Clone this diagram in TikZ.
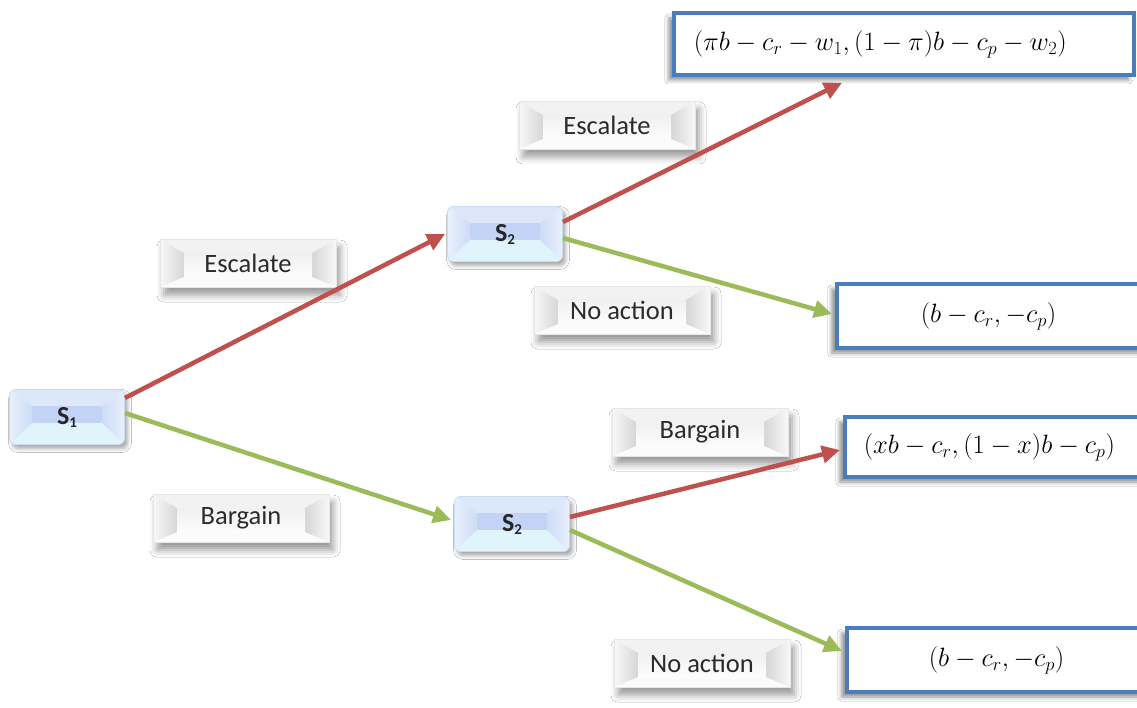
\RequirePackage{fix-cm}
\documentclass[tikz,border=0pt]{standalone}
\usepackage{fontspec}
\newfontfamily\labelfont{Carlito}
\usetikzlibrary{arrows.meta,shadows.blur}

\definecolor{arrowred}{HTML}{C0504D}
\definecolor{arrowgreen}{HTML}{9BBB59}
\definecolor{boxblue}{HTML}{4A7EBB}
\definecolor{stageedge}{HTML}{C9DCF3}
\definecolor{stagetop}{HTML}{DCE8FA}
\definecolor{stageside}{HTML}{E8F0FC}
\definecolor{stagein}{HTML}{CCDBF6}
\definecolor{stageband}{HTML}{C3D3F6}
\definecolor{stagebottom}{HTML}{E0F4FC}
\definecolor{labtop}{HTML}{F2F2F2}
\definecolor{labsideout}{HTML}{F8F8F8}
\definecolor{labsidein}{HTML}{D6D6D6}
\definecolor{labctop}{HTML}{F0F0F0}
\definecolor{labcbot}{HTML}{FDFDFD}
\definecolor{labbottom}{HTML}{FBFBFB}
\definecolor{labedge}{HTML}{E6E6E6}
\definecolor{labtext}{HTML}{2B2B2B}

% Bevelled face: inset x, inset top, inset bottom, then the face colours
\newcommand\bevelface[9]{%
  \begin{scope}[sharp corners]
  \coordinate (bnw) at (path picture bounding box.north west);
  \coordinate (bne) at (path picture bounding box.north east);
  \coordinate (bsw) at (path picture bounding box.south west);
  \coordinate (bse) at (path picture bounding box.south east);
  \coordinate (inw) at ([xshift=#1pt,yshift=-#2pt]bnw);
  \coordinate (ine) at ([xshift=-#1pt,yshift=-#2pt]bne);
  \coordinate (isw) at ([xshift=#1pt,yshift=#3pt]bsw);
  \coordinate (ise) at ([xshift=-#1pt,yshift=#3pt]bse);
  \fill[#4] (bnw) -- (bne) -- (ine) -- (inw) -- cycle;
  \fill[#9] (bsw) -- (bse) -- (ise) -- (isw) -- cycle;
  \shade[left color=#5, right color=#6] (bnw) -- (inw) -- (isw) -- (bsw) -- cycle;
  \shade[left color=#6, right color=#5] (bne) -- (ine) -- (ise) -- (bse) -- cycle;
  \shade[top color=#7, bottom color=#8] (inw) rectangle (ise);
  \end{scope}
}

\tikzset{
  stage/.style={rectangle, rounded corners=6pt, minimum width=115pt,
    minimum height=55pt, inner sep=0pt, draw=stageedge, line width=0.8pt,
    fill=white,
    blur shadow={shadow xshift=3pt, shadow yshift=-4pt,
      shadow blur radius=4pt, shadow opacity=35},
    path picture={\bevelface{23}{17}{22}{stagetop}{stageside}{stagein}{stageband}{stageband}{stagebottom}},
    font=\labelfont\bfseries\fontsize{26}{26}\selectfont, text=black!85},
  action/.style={rectangle, minimum width=176pt, minimum height=48pt,
    inner sep=0pt, fill=white, draw=labedge, line width=0.5pt,
    blur shadow={shadow xshift=4pt, shadow yshift=-8pt,
      shadow blur radius=7pt, shadow opacity=40},
    path picture={\bevelface{24}{14}{10}{labtop}{labsideout}{labsidein}{labctop}{labcbot}{labbottom}},
    font=\labelfont\fontsize{26.5}{26.5}\selectfont, text=labtext},
  payoff/.style={rectangle, draw=boxblue, line width=3.5pt, fill=white,
    anchor=west, minimum height=62pt, text width=420pt, align=left,
    blur shadow={shadow xshift=-5pt, shadow yshift=-5pt,
      shadow blur radius=4pt, shadow opacity=45},
    font=\fontsize{26.5}{30}\selectfont},
  move/.style={line width=4.5pt, -{Triangle[length=18pt,width=17pt]}},
  escalate/.style={move, draw=arrowred},
  calm/.style={move, draw=arrowgreen},
}

\newcommand\stagelabel[1]{S\raisebox{-3pt}{\fontsize{15}{15}\selectfont #1}}

\begin{document}
\begin{tikzpicture}[x=1pt, y=-1pt]
  \useasboundingbox (0,0) rectangle (1137,708);
  \fill[white] (0,0) rectangle (1137,708);
  \clip (0,0) rectangle (1137,708);

  % decision stages
  \node[stage] (s1)  at (67,417)  {\stagelabel{1}};
  \node[stage] (s2a) at (505,234) {\stagelabel{2}};
  \node[stage] (s2b) at (512,524) {\stagelabel{2}};

  % action labels
  \node[action] (esc1) at (248,263) {Escalate};
  \node[action] (bar1) at (241,518) {Bargain};
  \node[action] (esc2) at (607,125) {Escalate};
  \node[action] (no1)  at (622,310) {No action};
  \node[action] (bar2) at (700,432) {Bargain};
  \node[action] (no2)  at (702,663) {No action};

  % payoffs
  \node[payoff, inner xsep=20pt] (r1) at (672,44)
    {$(\pi b - c_r - w_1, (1-\pi)b - c_p - w_2)$};
  \node[payoff, inner xsep=84pt, minimum height=64pt] (r2) at (835,316)
    {$(b - c_r, -c_p)$};
  \node[payoff, inner xsep=19pt, minimum height=60pt] (r3) at (843,447)
    {$(xb - c_r, (1-x)b - c_p)$};
  \node[payoff, inner xsep=82pt, minimum height=64pt] (r4) at (845,660)
    {$(b - c_r, -c_p)$};

  % moves
  \draw[escalate] ([yshift=19pt]s1.east) -- ([xshift=-2pt]s2a.west);
  \draw[calm] ([yshift=4pt]s1.east) -- ([xshift=-3pt,yshift=4pt]s2b.west);
  \draw[escalate] ([yshift=12pt]s2a.east) -- ([xshift=170pt,yshift=-6pt]r1.south west);
  \draw[calm] ([yshift=-4pt]s2a.east) -- ([xshift=-3pt,yshift=2pt]r2.west);
  \draw[escalate] ([yshift=7pt]s2b.east) -- ([xshift=-3pt,yshift=-3pt]r3.west);
  \draw[calm] ([yshift=-6pt]s2b.east) -- ([xshift=-3pt,yshift=9pt]r4.west);
\end{tikzpicture}
\end{document}
